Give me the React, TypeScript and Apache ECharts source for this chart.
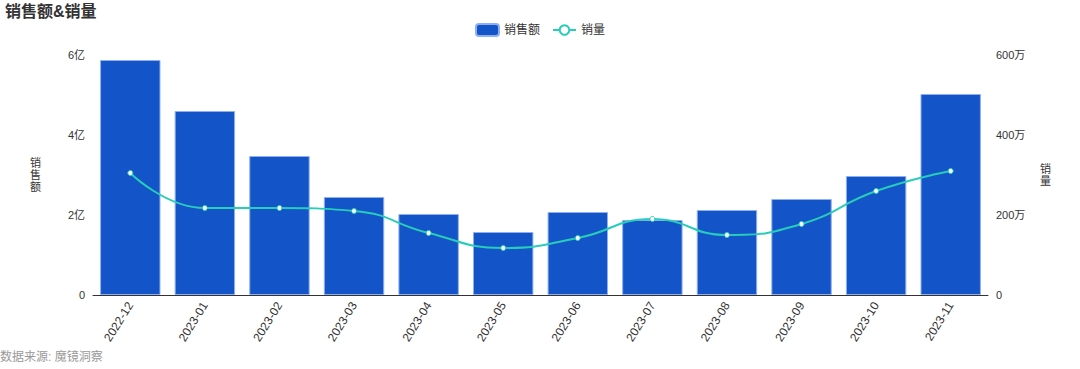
import React, { useEffect, useRef } from "react";
import * as echarts from "echarts";

const months = [
  "2022-12", "2023-01", "2023-02", "2023-03", "2023-04", "2023-05",
  "2023-06", "2023-07", "2023-08", "2023-09", "2023-10", "2023-11",
];
// 销售额 (元)
const salesAmount = [
  587500000, 460000000, 347500000, 245000000, 202500000, 157500000,
  207500000, 187500000, 212500000, 240000000, 297500000, 502500000,
];
// 销量 (件)
const salesVolume = [
  3050000, 2175000, 2175000, 2100000, 1550000, 1175000,
  1425000, 1900000, 1500000, 1775000, 2600000, 3100000,
];

const FONT = "'Liberation Sans', 'Noto Sans CJK SC', sans-serif";

export default function App() {
  const ref = useRef<HTMLDivElement>(null);
  useEffect(() => {
    document.body.style.margin = "0";
    if (!ref.current) return;
    const chart = echarts.init(ref.current, undefined, { renderer: "svg" });
    chart.setOption({
      animation: false,
      textStyle: { fontFamily: FONT },
      title: {
        text: "销售额&销量",
        left: 0,
        top: 0,
        padding: [3, 5],
        textStyle: { fontSize: 16, fontWeight: "bold", color: "#333", fontFamily: FONT },
      },
      graphic: [
        {
          type: "text",
          left: 0,
          top: 351,
          style: { text: "数据来源: 魔镜洞察", fill: "#999", fontSize: 12, fontFamily: FONT },
        },
      ],
      legend: {
        top: 18,
        left: "center",
        itemWidth: 23,
        itemHeight: 12,
        itemGap: 12,
        textStyle: { fontSize: 12, color: "#333", fontFamily: FONT },
        data: ["销售额", "销量"],
      },
      grid: { left: 93, right: 92, top: 55, bottom: 74 },
      xAxis: {
        type: "category",
        data: months,
        axisLine: { lineStyle: { color: "#333" } },
        axisTick: { show: false },
        axisLabel: { rotate: 58, color: "#333", fontSize: 12, margin: 8, fontFamily: FONT },
      },
      yAxis: [
        {
          type: "value",
          min: 0,
          max: 600000000,
          interval: 200000000,
          name: "销\n售\n额",
          nameLocation: "middle",
          nameGap: 52,
          nameRotate: 0,
          nameTextStyle: { color: "#333", fontSize: 11, lineHeight: 12, fontFamily: FONT },
          splitLine: { show: false },
          axisLine: { show: false },
          axisTick: { show: false },
          axisLabel: {
            color: "#333",
            fontSize: 11,
            fontFamily: FONT,
            formatter: (v: number) => (v === 0 ? "0" : v / 100000000 + "亿"),
          },
        },
        {
          type: "value",
          min: 0,
          max: 6000000,
          interval: 2000000,
          name: "销\n量",
          nameLocation: "middle",
          nameGap: 52,
          nameRotate: 0,
          nameTextStyle: { color: "#333", fontSize: 11, lineHeight: 12, fontFamily: FONT },
          splitLine: { show: false },
          axisLine: { show: false },
          axisTick: { show: false },
          axisLabel: {
            color: "#333",
            fontSize: 11,
            fontFamily: FONT,
            formatter: (v: number) => (v === 0 ? "0" : v / 10000 + "万"),
          },
        },
      ],
      series: [
        {
          name: "销售额",
          type: "bar",
          data: salesAmount,
          barCategoryGap: "19%",
          itemStyle: { color: "#1354c8", borderColor: "#8fb0ef", borderWidth: 1 },
        },
        {
          name: "销量",
          type: "line",
          yAxisIndex: 1,
          data: salesVolume,
          smooth: true,
          symbol: "circle",
          symbolSize: 5,
          lineStyle: { color: "#28cdb9", width: 2 },
          itemStyle: { color: "#ffffff", borderColor: "#28cdb9", borderWidth: 1 },
        },
      ],
    });
    return () => chart.dispose();
  }, []);
  return <div ref={ref} style={{ width: 1080, height: 369 }} />;
}
